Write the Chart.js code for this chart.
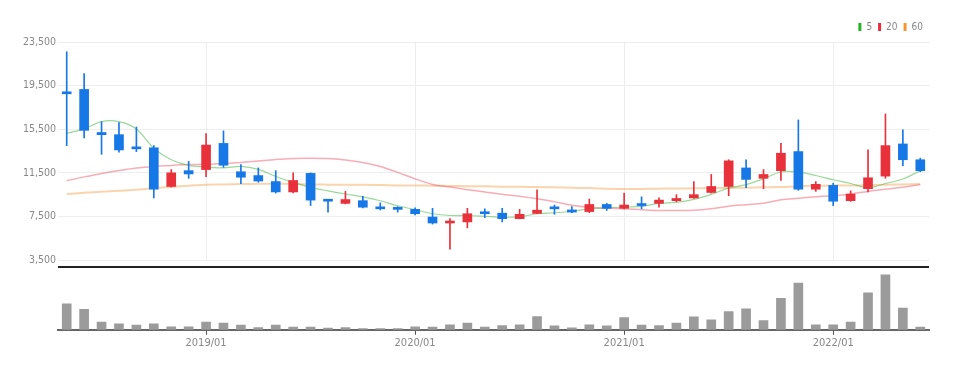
<!DOCTYPE html>
<html lang="ko">
<head>
<meta charset="UTF-8">
<title>월봉 차트</title>
<script src="https://cdn.jsdelivr.net/npm/chart.js"></script>
<style>
  html, body { margin: 0; padding: 0; background: #fff; }
  #wrap { width: 960px; height: 370px; }
</style>
</head>
<body>
<div id="wrap"><canvas id="stockChart"></canvas></div>
<script>
// monthly candles, 2018/05 - 2022/06
const months = [
  '2018/05','2018/06','2018/07','2018/08','2018/09','2018/10','2018/11','2018/12',
  '2019/01','2019/02','2019/03','2019/04','2019/05','2019/06','2019/07','2019/08','2019/09','2019/10','2019/11','2019/12',
  '2020/01','2020/02','2020/03','2020/04','2020/05','2020/06','2020/07','2020/08','2020/09','2020/10','2020/11','2020/12',
  '2021/01','2021/02','2021/03','2021/04','2021/05','2021/06','2021/07','2021/08','2021/09','2021/10','2021/11','2021/12',
  '2022/01','2022/02','2022/03','2022/04','2022/05','2022/06'
];
const openPrices = [18900,19150,15200,15000,13850,13800,10250,11700, 11800,14200,11600,11250,10700,9750,11450,9000,8700,8950,8300,8250,
  8150,7450,6900,7000,7900,7800,7300,7780,8300,8100,7950,8600, 8250,8600,8700,8950,9200,9700,10250,11950,11000,11700,13450,10000,
  10350,8950,10050,11200,14150,12700];
const highPrices = [22600,20600,16200,16100,15700,14000,11800,12550, 15100,15350,12250,11950,11700,11500,11500,9050,9800,9350,8750,8400,
  8300,8250,7300,8250,8200,8250,8150,9950,8550,8400,9100,8700, 9650,9300,9200,9500,10700,11350,12700,12700,11800,14200,16350,10700,
  10550,9850,13600,16900,15450,12850];
const lowPrices = [14000,14700,13200,13400,13450,9200,10200,11000, 11150,12000,10500,10650,9650,9650,8500,7900,8650,8280,8100,7900,
  7650,6800,4500,6450,7400,7000,7280,7750,7700,7850,7850,8050, 8200,8200,8350,8850,9150,9650,9400,10150,10050,10800,9900,9800,
  8500,8880,9750,11000,12150,11600];
const closePrices = [18750,15400,15000,13600,13700,10000,11500,11400, 14050,12200,11100,10750,9750,10800,9000,8900,9050,8350,8200,8150,
  7750,6900,7000,7750,7750,7300,7700,8080,8200,7900,8600,8250, 8550,8500,9000,9150,9500,10250,12600,10900,11350,13300,10000,10450,
  8900,9550,11050,14000,12700,11700];

const ma5 = [15130,15530,16200,16200,15530,13760,12700,12180, 12050,11950,12100,11820,11170,10620,10170,9850,9560,9290,8940,8480,
  8120,7750,7590,7590,7520,7430,7470,7750,7840,7980,8210,8280, 8370,8430,8700,8800,9070,9530,10100,10420,10970,11580,11570,11260,
  10870,10520,10130,10520,10940,11700];
const ma20 = [10780,11130,11450,11720,11950,12090,12180,12270, 12270,12360,12450,12590,12730,12820,12850,12820,12680,12450,12090,11540,
  10950,10440,10200,9960,9740,9530,9350,9120,8850,8530,8340,8250, 8210,8120,8050,8050,8070,8210,8440,8580,8710,9030,9170,9300,
  9400,9560,9800,9990,10170,10420];
const ma60 = [9560,9670,9760,9850,9940,10100,10210,10320, 10420,10440,10470,10490,10510,10490,10440,10420,10410,10400,10380,10350,
  10340,10320,10300,10280,10260,10230,10220,10200,10170,10130,10100,10050, 10020,10030,10050,10070,10080,10100,10120,10140,10170,10200,10260,10310,
  10350,10350,10370,10420,10440,10470];

// volume, thousand shares
const volumes = [2600,2060,770,600,470,600,300,300, 770,670,470,230,470,270,270,170,230,130,130,130,
  300,270,500,670,270,430,500,1330,400,200,500,400, 1230,470,430,670,1300,1000,1830,2100,930,3170,4700,500,
  500,770,3700,5530,2170,270];

const yTicks = [3500, 7500, 11500, 15500, 19500, 23500];
const priceMin = 2860;

const UP = '#e8313a';
const DOWN = '#1677e6';
const candleColors = closePrices.map((c, i) => c >= openPrices[i] ? UP : DOWN);
const labelFont = "'Liberation Sans Narrow', 'DejaVu Sans Condensed', Lato, sans-serif";

// vertical grid lines only inside the price panel
const priceGrid = {
  id: 'priceGrid',
  beforeDatasetsDraw(chart) {
    const x = chart.scales.x, y = chart.scales.y;
    const ctx = chart.ctx;
    ctx.save();
    ctx.strokeStyle = '#ededed';
    ctx.lineWidth = 1;
    x.ticks.forEach(t => {
      const px = Math.round(x.getPixelForValue(t.value)) + 0.5;
      ctx.beginPath();
      ctx.moveTo(px, y.top);
      ctx.lineTo(px, y.getPixelForValue(yTicks[0]));
      ctx.stroke();
    });
    ctx.restore();
  }
};

const ctx = document.getElementById('stockChart').getContext('2d');
new Chart(ctx, {
  data: {
    labels: months,
    datasets: [
      { type: 'line', label: '5', data: ma5, yAxisID: 'y', order: 2,
        borderColor: 'rgba(70,185,70,0.55)', backgroundColor: '#22b422', borderWidth: 1.2,
        pointRadius: 0, tension: 0.35 },
      { type: 'line', label: '20', data: ma20, yAxisID: 'y', order: 3,
        borderColor: 'rgba(240,70,90,0.45)', backgroundColor: '#f0283c', borderWidth: 1.5,
        pointRadius: 0, tension: 0.35 },
      { type: 'line', label: '60', data: ma60, yAxisID: 'y', order: 4,
        borderColor: 'rgba(245,160,70,0.45)', backgroundColor: '#f5962d', borderWidth: 2,
        pointRadius: 0, tension: 0.35 },
      { type: 'bar', label: 'body', yAxisID: 'y', order: 0, grouped: false,
        data: months.map((m, i) => [openPrices[i], closePrices[i]]),
        backgroundColor: candleColors, barThickness: 9, minBarLength: 2, borderWidth: 0 },
      { type: 'bar', label: 'wick', yAxisID: 'y', order: 1, grouped: false,
        data: months.map((m, i) => [lowPrices[i], highPrices[i]]),
        backgroundColor: candleColors, barThickness: 1, borderWidth: 0 },
      { type: 'bar', label: 'volume', yAxisID: 'yv', order: 5, grouped: false,
        data: volumes, backgroundColor: '#9b9b9b', barThickness: 9, borderWidth: 0 }
    ]
  },
  options: {
    responsive: true,
    maintainAspectRatio: false,
    animation: false,
    layout: { padding: { left: 0, right: 31, top: 16, bottom: 18 } },
    plugins: {
      tooltip: { enabled: false },
      legend: {
        position: 'top',
        align: 'end',
        labels: {
          boxWidth: 3, boxHeight: 8, padding: 6, color: '#888',
          font: { family: labelFont, size: 10 },
          generateLabels: chart => Chart.defaults.plugins.legend.labels.generateLabels(chart)
            .filter(l => l.datasetIndex < 3)
            .map(l => Object.assign(l, { lineWidth: 0, strokeStyle: l.fillStyle })),
          sort: (a, b) => a.datasetIndex - b.datasetIndex
        }
      }
    },
    scales: {
      x: {
        type: 'category',
        offset: true,
        afterBuildTicks: axis => { axis.ticks = axis.ticks.filter(t => months[t.value].endsWith('/01')); },
        ticks: { autoSkip: false, maxRotation: 0, color: '#888', padding: 2,
          font: { family: labelFont, size: 11 } },
        grid: { offset: false, drawOnChartArea: false, tickLength: 5, tickColor: '#555', tickWidth: 1 },
        border: { display: true, color: '#666', width: 2 }
      },
      yv: {
        type: 'linear',
        position: 'left',
        stack: 'panels',
        stackWeight: 63,
        min: 0,
        max: 6300,
        afterFit: axis => { axis.width = 58; },
        ticks: { display: false },
        grid: { display: false },
        border: { display: false }
      },
      y: {
        type: 'linear',
        position: 'left',
        stack: 'panels',
        stackWeight: 226,
        min: priceMin,
        max: 23500,
        afterBuildTicks: axis => { axis.ticks = [priceMin].concat(yTicks).map(v => ({ value: v })); },
        afterFit: axis => { axis.width = 58; },
        ticks: { color: '#888', padding: 2, font: { family: labelFont, size: 10.5 },
          callback: v => v === priceMin ? '' : v.toLocaleString('en-US') },
        grid: { drawTicks: false,
          color: c => c.tick && c.tick.value === priceMin ? '#222' : '#eeeeee',
          lineWidth: c => c.tick && c.tick.value === priceMin ? 2 : 1 },
        border: { display: false }
      }
    }
  },
  plugins: [priceGrid]
});
</script>
</body>
</html>
